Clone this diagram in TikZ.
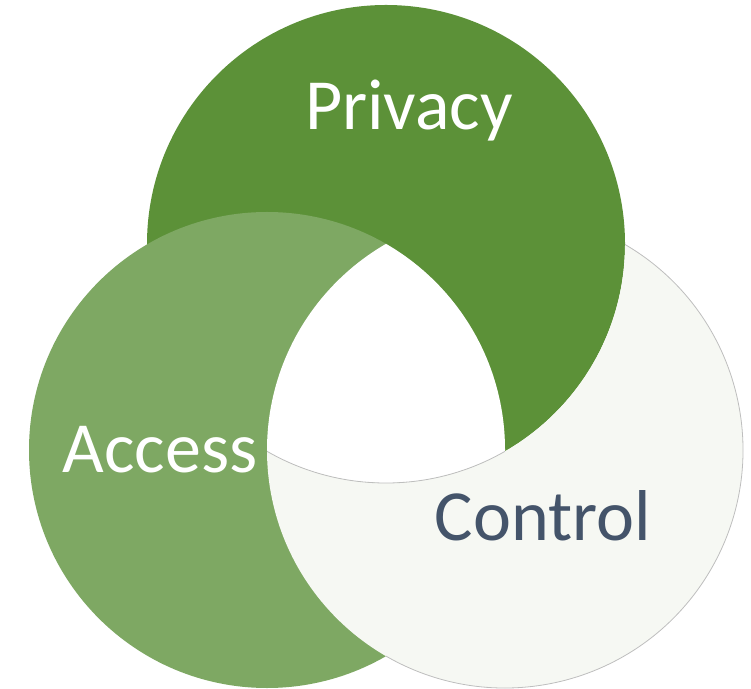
\documentclass[tikz,border=0pt]{standalone}
\usepackage{fontspec}
\setmainfont{Carlito}
\usepackage{tikz}
\usetikzlibrary{positioning}
\definecolor{privacygreen}{RGB}{92,145,56}
\definecolor{accessgreen}{RGB}{126,168,99}
\definecolor{controlwhite}{RGB}{246,248,243}
\definecolor{controlblue}{RGB}{68,84,106}
\definecolor{rimgray}{RGB}{190,190,190}

\begin{document}
\begin{tikzpicture}[x=1pt, y=1pt, every node/.style={font=\fontsize{72}{86}\selectfont, anchor=base, inner sep=0pt}]
  \useasboundingbox (0,0) rectangle (751,688);
  \coordinate (pc) at (386,444);
  \coordinate (ac) at (267,238);
  \coordinate (cc) at (505,238);

  \fill[privacygreen] (pc) circle (239);
  \fill[accessgreen] (ac) circle (238);
  \begin{scope}[even odd rule]
    \clip (pc) circle (239) (-20,-20) rectangle (771,708);
    \fill[controlwhite] (cc) circle (238);
  \end{scope}
  \draw[rimgray, line width=0.8pt] (cc) ++(59.7:238) arc[start angle=59.7, end angle=-120, radius=238];
  \begin{scope}
    \clip (ac) circle (238);
    \clip (cc) circle (238);
    \fill[white] (pc) circle (239);
    \draw[rimgray, line width=0.8pt] (pc) circle (239);
  \end{scope}

  \node[white] (privacy) at (409,558) {Privacy};
  \node[white] (access) at (160,215) {Access};
  \node[controlblue] (control) at (543,148) {Control};
\end{tikzpicture}
\end{document}
